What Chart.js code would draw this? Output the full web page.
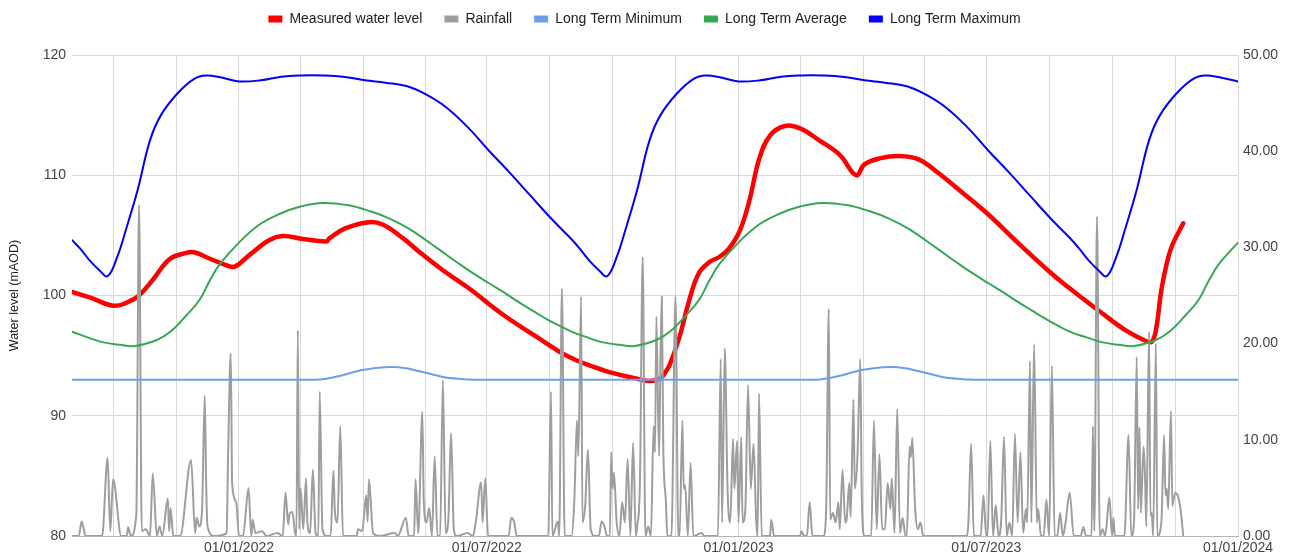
<!DOCTYPE html>
<html>
<head>
<meta charset="utf-8">
<title>Water level</title>
<script src="https://cdn.jsdelivr.net/npm/chart.js@4.4.1/dist/chart.umd.min.js"></script>
<style>
  html, body { margin: 0; padding: 0; background: #fff; }
  #wrap { width: 1289px; height: 559px; }
</style>
</head>
<body>
<div id="wrap"><canvas id="levelChart" width="1289" height="559"></canvas></div>
<script>
// x values are days counted from 01/01/2022
const xMin = -122; // 01/09/2021
const xMax = 730;  // 01/01/2024
const gridDays = [-92, -46, 0, 45, 91, 136, 181, 227, 273, 319, 365, 410, 456, 501, 546, 592, 638, 684, 730];
const labelDays = [0, 181, 365, 546, 730];
const labelText = ['01/01/2022', '01/07/2022', '01/01/2023', '01/07/2023', '01/01/2024'];

// measured water level (mAOD)
const levelDays = [-122, -108, -92, -82, -73, -63, -51, -40, -33, -22, -9, -3, 8, 22, 32, 47, 64, 66, 78, 95, 105, 120, 132, 149, 168, 193, 217, 241, 266, 290, 300, 308, 312, 315, 322, 329, 336, 344, 351, 358, 366, 373, 380, 388, 399, 410, 424, 439, 451, 457, 468, 483, 497, 512, 526, 546, 570, 595, 607, 631, 648, 663, 667, 670, 674, 678, 682, 690];
const levelValues = [100.3, 99.8, 99.15, 99.4, 100.0, 101.3, 103.0, 103.5, 103.6, 103.1, 102.5, 102.4, 103.4, 104.6, 104.95, 104.7, 104.5, 104.75, 105.6, 106.1, 105.9, 104.75, 103.6, 102.1, 100.6, 98.4, 96.6, 94.9, 93.8, 93.1, 92.9, 93.1, 93.7, 94.3, 96.6, 99.6, 101.85, 102.8, 103.2, 103.9, 105.4, 107.9, 111.3, 113.3, 114.1, 113.9, 112.9, 111.7, 110.0, 110.9, 111.4, 111.6, 111.3, 110.1, 108.8, 106.9, 104.3, 101.7, 100.6, 98.5, 97.1, 96.2, 96.15, 97.1, 100.45, 102.7, 104.2, 106.0];

// rainfall (mm), right axis
const rainDays = [-122, -117, -115, -112, -100, -96, -94, -92, -86, -82, -81, -79, -75, -73, -71, -68, -65, -63, -60, -58, -56, -52, -51, -50, -48, -43, -35, -32, -31, -29, -27, -25, -24, -23, -18, -9, -8, -6, -5, -2, 0, 3, 7, 9, 10, 12, 17, 20, 28, 32, 34, 36, 37, 39, 41, 42, 43, 44, 45, 47, 49, 50, 52, 54, 56, 58, 59, 61, 64, 67, 69, 70, 72, 74, 76, 86, 87, 90, 93, 94, 95, 98, 103, 114, 116, 122, 124, 128, 129, 131, 134, 135, 137, 139, 141, 143, 145, 147, 149, 151, 153, 155, 157, 159, 167, 171, 173, 177, 178, 180, 182, 197, 199, 201, 203, 226, 228, 229, 233, 234, 236, 238, 243, 245, 247, 248, 250, 251, 253, 255, 257, 260, 263, 265, 267, 269, 271, 272, 273, 274, 276, 278, 280, 282, 284, 286, 288, 290, 291, 293, 295, 297, 299, 301, 303, 304, 305, 307, 308, 309, 310, 312, 313, 316, 319, 321, 322, 324, 325, 326, 328, 330, 332, 338, 340, 350, 352, 353, 355, 357, 359, 361, 362, 364, 365, 367, 368, 370, 372, 374, 376, 378, 379, 380, 382, 388, 389, 391, 410, 411, 413, 415, 417, 419, 427, 429, 431, 432, 434, 436, 438, 439, 441, 443, 444, 446, 447, 449, 450, 452, 454, 455, 457, 462, 464, 466, 468, 470, 472, 474, 476, 477, 479, 481, 483, 485, 487, 488, 490, 491, 492, 494, 496, 498, 500, 532, 533, 535, 537, 542, 544, 546, 547, 549, 551, 553, 555, 557, 559, 561, 563, 565, 567, 569, 571, 573, 575, 576, 578, 579, 581, 583, 584, 586, 588, 590, 592, 594, 596, 598, 600, 602, 604, 607, 610, 615, 617, 619, 623, 624, 625, 627, 629, 631, 633, 636, 638, 639, 640, 647, 650, 652, 654, 656, 657, 658, 659, 661, 662, 663, 665, 666, 667, 668, 670, 671, 674, 676, 677, 678, 679, 681, 682, 684, 686, 688, 690];
const rainMm = [0, 0, 1.5, 0, 0, 8.1, 0.5, 5.9, 0, 0, 0.9, 0, 2.3, 34.4, 0.5, 0.7, 0, 6.5, 0, 1.0, 0, 3.9, 0.5, 2.9, 0, 0, 7.9, 0.3, 1.9, 1.0, 2.6, 14.6, 5.7, 1.0, 0, 0.3, 8.0, 19.0, 5.5, 3.5, 0, 0, 5.0, 0, 1.7, 0.3, 0.5, 0, 0.3, 0, 4.5, 1.2, 2.3, 2.5, 0.3, 0, 21.4, 0.7, 5.0, 0.7, 6.0, 1.4, 0.3, 6.9, 0.3, 0, 15.0, 0.7, 0, 0, 6.8, 2.8, 1.4, 11.4, 0, 0, 0.7, 0.5, 4.2, 1.5, 5.9, 0.3, 0, 0.3, 0, 1.9, 0, 0, 5.9, 0.3, 12.9, 3.8, 1.4, 2.9, 0, 8.3, 0, 0, 16.2, 0.3, 1.7, 10.7, 0.7, 0, 0.3, 0, 1.4, 5.6, 1.4, 6.0, 0, 0, 1.9, 1.5, 0, 0, 15.0, 0, 1.5, 0, 25.7, 0, 0, 3.5, 12.0, 8.3, 24.9, 1.4, 3.2, 9.0, 0.7, 0, 0, 1.5, 1.0, 0, 0, 8.7, 4.9, 6.6, 1.4, 0, 3.5, 1.4, 8.0, 0, 9.7, 0, 1.0, 5.6, 29.0, 0, 1.0, 0, 11.4, 8.7, 22.8, 8.3, 18.6, 24.9, 9.7, 3.5, 0, 0, 24.9, 0, 0, 12.0, 4.9, 5.3, 0, 7.6, 0, 0.3, 0, 0, 18.4, 1.4, 19.5, 4.9, 1.4, 10.1, 4.9, 9.9, 1.4, 10.3, 1.4, 2.8, 15.7, 4.9, 9.6, 1.4, 0, 14.8, 0, 0, 1.7, 0, 0, 0.5, 0, 0, 3.5, 0, 0, 2.4, 23.6, 1.7, 2.4, 1.4, 3.5, 0.7, 6.9, 1.4, 1.7, 5.5, 2.0, 14.2, 4.9, 8.5, 18.4, 4.9, 0, 0, 12.0, 0.7, 8.5, 0.7, 0.7, 5.5, 2.8, 6.0, 0.3, 13.2, 0.3, 1.9, 0, 0, 9.3, 8.2, 10.2, 3.1, 0.7, 1.4, 0, 0, 1.4, 9.6, 0, 0, 4.2, 0, 0, 9.9, 0, 3.2, 0, 1.7, 10.3, 0, 1.4, 0, 10.6, 1.4, 8.7, 0.3, 2.8, 1.4, 18.2, 1.4, 19.9, 1.4, 2.8, 0, 0, 3.8, 0, 17.7, 0, 0, 2.4, 0, 1.4, 4.5, 0, 0, 0.9, 0, 0, 11.4, 0.5, 33.2, 0, 0.7, 0, 4.0, 0, 1.9, 0, 0, 10.5, 0, 1.4, 18.6, 2.8, 11.3, 2.4, 9.3, 6.5, 1.0, 21.2, 2.1, 2.4, 0, 20.0, 0, 1.4, 10.5, 4.2, 4.9, 2.8, 13.0, 3.1, 4.5, 4.2, 2.8, 0];

// long term minimum
const minDays = [-122, -60, 0, 55, 65, 75, 90, 100, 112, 122, 132, 141, 149, 160, 172, 250, 365, 420, 430, 440, 455, 465, 477, 487, 497, 506, 514, 525, 537, 620, 730];
const minValues = [93.0, 93.0, 93.0, 93.0, 93.1, 93.35, 93.8, 93.98, 94.05, 93.95, 93.7, 93.45, 93.22, 93.07, 93.0, 93.0, 93.0, 93.0, 93.1, 93.35, 93.8, 93.98, 94.05, 93.95, 93.7, 93.45, 93.22, 93.07, 93.0, 93.0, 93.0];

// long term average
const avgDays = [-122, -110, -99, -87, -76, -60, -50, -38, -29, -21, -14, 0, 15, 30, 45, 61, 80, 96, 110, 125, 144, 160, 169, 183, 193, 205, 218, 227, 243, 255, 266, 278, 289, 305, 315, 327, 336, 344, 351, 365, 380, 395, 410, 426, 445, 461, 475, 490, 509, 525, 534, 548, 558, 570, 583, 592, 607, 620, 631, 643, 654, 670, 680, 692, 701, 709, 716, 730];
const avgValues = [97.0, 96.5, 96.1, 95.9, 95.8, 96.3, 97.0, 98.4, 99.6, 101.3, 102.6, 104.4, 105.9, 106.8, 107.4, 107.7, 107.5, 107.0, 106.4, 105.5, 104.0, 102.7, 102.0, 101.0, 100.3, 99.4, 98.5, 97.9, 97.0, 96.5, 96.1, 95.9, 95.8, 96.3, 97.0, 98.4, 99.6, 101.3, 102.6, 104.4, 105.9, 106.8, 107.4, 107.7, 107.5, 107.0, 106.4, 105.5, 104.0, 102.7, 102.0, 101.0, 100.3, 99.4, 98.5, 97.9, 97.0, 96.5, 96.1, 95.9, 95.8, 96.3, 97.0, 98.4, 99.6, 101.3, 102.6, 104.4];

// long term maximum
const maxDays = [-122, -116, -109, -102, -96, -89, -82, -74, -65, -57, -45, -33, -24, -12, 0, 16, 31, 46, 61, 76, 92, 107, 123, 137, 152, 168, 183, 198, 213, 229, 242, 249, 256, 263, 269, 276, 283, 291, 300, 308, 320, 332, 341, 353, 365, 381, 396, 411, 426, 441, 457, 472, 488, 502, 517, 533, 548, 563, 578, 594, 607, 614, 621, 628, 634, 641, 648, 656, 665, 673, 685, 697, 706, 718, 730];
const maxValues = [104.6, 103.9, 102.9, 102.1, 101.6, 103.2, 105.7, 108.8, 112.9, 115.0, 116.8, 118.0, 118.3, 118.1, 117.8, 117.9, 118.2, 118.3, 118.3, 118.2, 117.9, 117.7, 117.4, 116.7, 115.6, 113.9, 112.0, 110.2, 108.3, 106.3, 104.8, 103.9, 102.9, 102.1, 101.6, 103.2, 105.7, 108.8, 112.9, 115.0, 116.8, 118.0, 118.3, 118.1, 117.8, 117.9, 118.2, 118.3, 118.3, 118.2, 117.9, 117.7, 117.4, 116.7, 115.6, 113.9, 112.0, 110.2, 108.3, 106.3, 104.8, 103.9, 102.9, 102.1, 101.6, 103.2, 105.7, 108.8, 112.9, 115.0, 116.8, 118.0, 118.3, 118.1, 117.8];

function pairs(xs, ys) {
  return xs.map((x, i) => ({ x: x, y: ys[i] }));
}

const FONT = 'Arial, "Liberation Sans", sans-serif';
Chart.defaults.font.family = FONT;
Chart.defaults.font.size = 14;
Chart.defaults.color = '#444';

const GRID = '#d9d9d9';
const LEGEND_PAD = 22;
const LEGEND_FONT = 14;

// move the legend row up without moving the plot area
const legendNudge = {
  id: 'legendNudge',
  afterLayout(chart) {
    const lg = chart.legend;
    if (!lg) return;
    const top = 19 - LEGEND_PAD - LEGEND_FONT / 2;
    const h = lg.bottom - lg.top;
    lg.top = top;
    lg.bottom = top + h;
  }
};

function lineSet(label, xs, ys, color, width, axis, order, smooth) {
  const ds = {
    label: label,
    data: pairs(xs, ys),
    borderColor: color,
    backgroundColor: color,
    borderWidth: width,
    pointRadius: 0,
    pointHoverRadius: 0,
    fill: false,
    borderJoinStyle: 'round',
    borderCapStyle: 'round',
    yAxisID: axis,
    order: order
  };
  if (smooth) ds.tension = 0.4;
  else ds.cubicInterpolationMode = 'monotone';
  return ds;
}

const ctx = document.getElementById('levelChart').getContext('2d');
const levelChart = new Chart(ctx, {
  type: 'line',
  data: {
    datasets: [
      lineSet('Measured water level', levelDays, levelValues, '#ff0000', 4.5, 'y', 5, true),
      lineSet('Rainfall', rainDays, rainMm, '#9e9e9e', 2, 'y1', 4, false),
      lineSet('Long Term Minimum', minDays, minValues, '#6d9eeb', 2, 'y', 3, false),
      lineSet('Long Term Average', avgDays, avgValues, '#34a853', 2, 'y', 2, true),
      lineSet('Long Term Maximum', maxDays, maxValues, '#0000ff', 2, 'y', 1, true)
    ]
  },
  options: {
    responsive: false,
    animation: false,
    devicePixelRatio: 1,
    layout: { padding: { top: 9, left: 0, right: 0, bottom: 0 } },
    plugins: {
      legend: {
        position: 'top',
        align: 'center',
        labels: {
          boxWidth: 14,
          boxHeight: 7,
          padding: LEGEND_PAD,
          color: '#222',
          font: { size: LEGEND_FONT, family: FONT },
          sort: (a, b) => a.datasetIndex - b.datasetIndex,
          generateLabels: chart => Chart.defaults.plugins.legend.labels.generateLabels(chart)
            .map(item => Object.assign(item, { lineWidth: 0 }))
        }
      },
      tooltip: { enabled: false }
    },
    scales: {
      x: {
        type: 'linear',
        min: xMin,
        max: xMax,
        afterBuildTicks: scale => { scale.ticks = gridDays.map(v => ({ value: v })); },
        afterFit: scale => { scale.height = 23; },
        grid: { color: GRID, drawTicks: false },
        border: { color: '#b5b5b5' },
        ticks: {
          autoSkip: false,
          maxRotation: 0,
          padding: 4,
          color: '#444',
          callback: v => {
            const i = labelDays.indexOf(v);
            return i >= 0 ? labelText[i] : '';
          }
        }
      },
      y: {
        position: 'left',
        min: 80,
        max: 120,
        afterFit: scale => { scale.width = 72; },
        grid: { color: GRID, drawTicks: false },
        border: { display: false },
        ticks: { stepSize: 10, padding: 6, color: '#444' },
        title: {
          display: true,
          text: 'Water level (mAOD)',
          color: '#222',
          font: { size: 12.5, family: FONT },
          padding: { top: 7, bottom: 0 }
        }
      },
      y1: {
        position: 'right',
        min: 0,
        max: 50,
        afterFit: scale => { scale.width = 51; },
        grid: { display: false, drawTicks: false },
        border: { display: false },
        ticks: { stepSize: 10, padding: 5, color: '#444', callback: v => v.toFixed(2) }
      }
    }
  },
  plugins: [legendNudge]
});
</script>
</body>
</html>
